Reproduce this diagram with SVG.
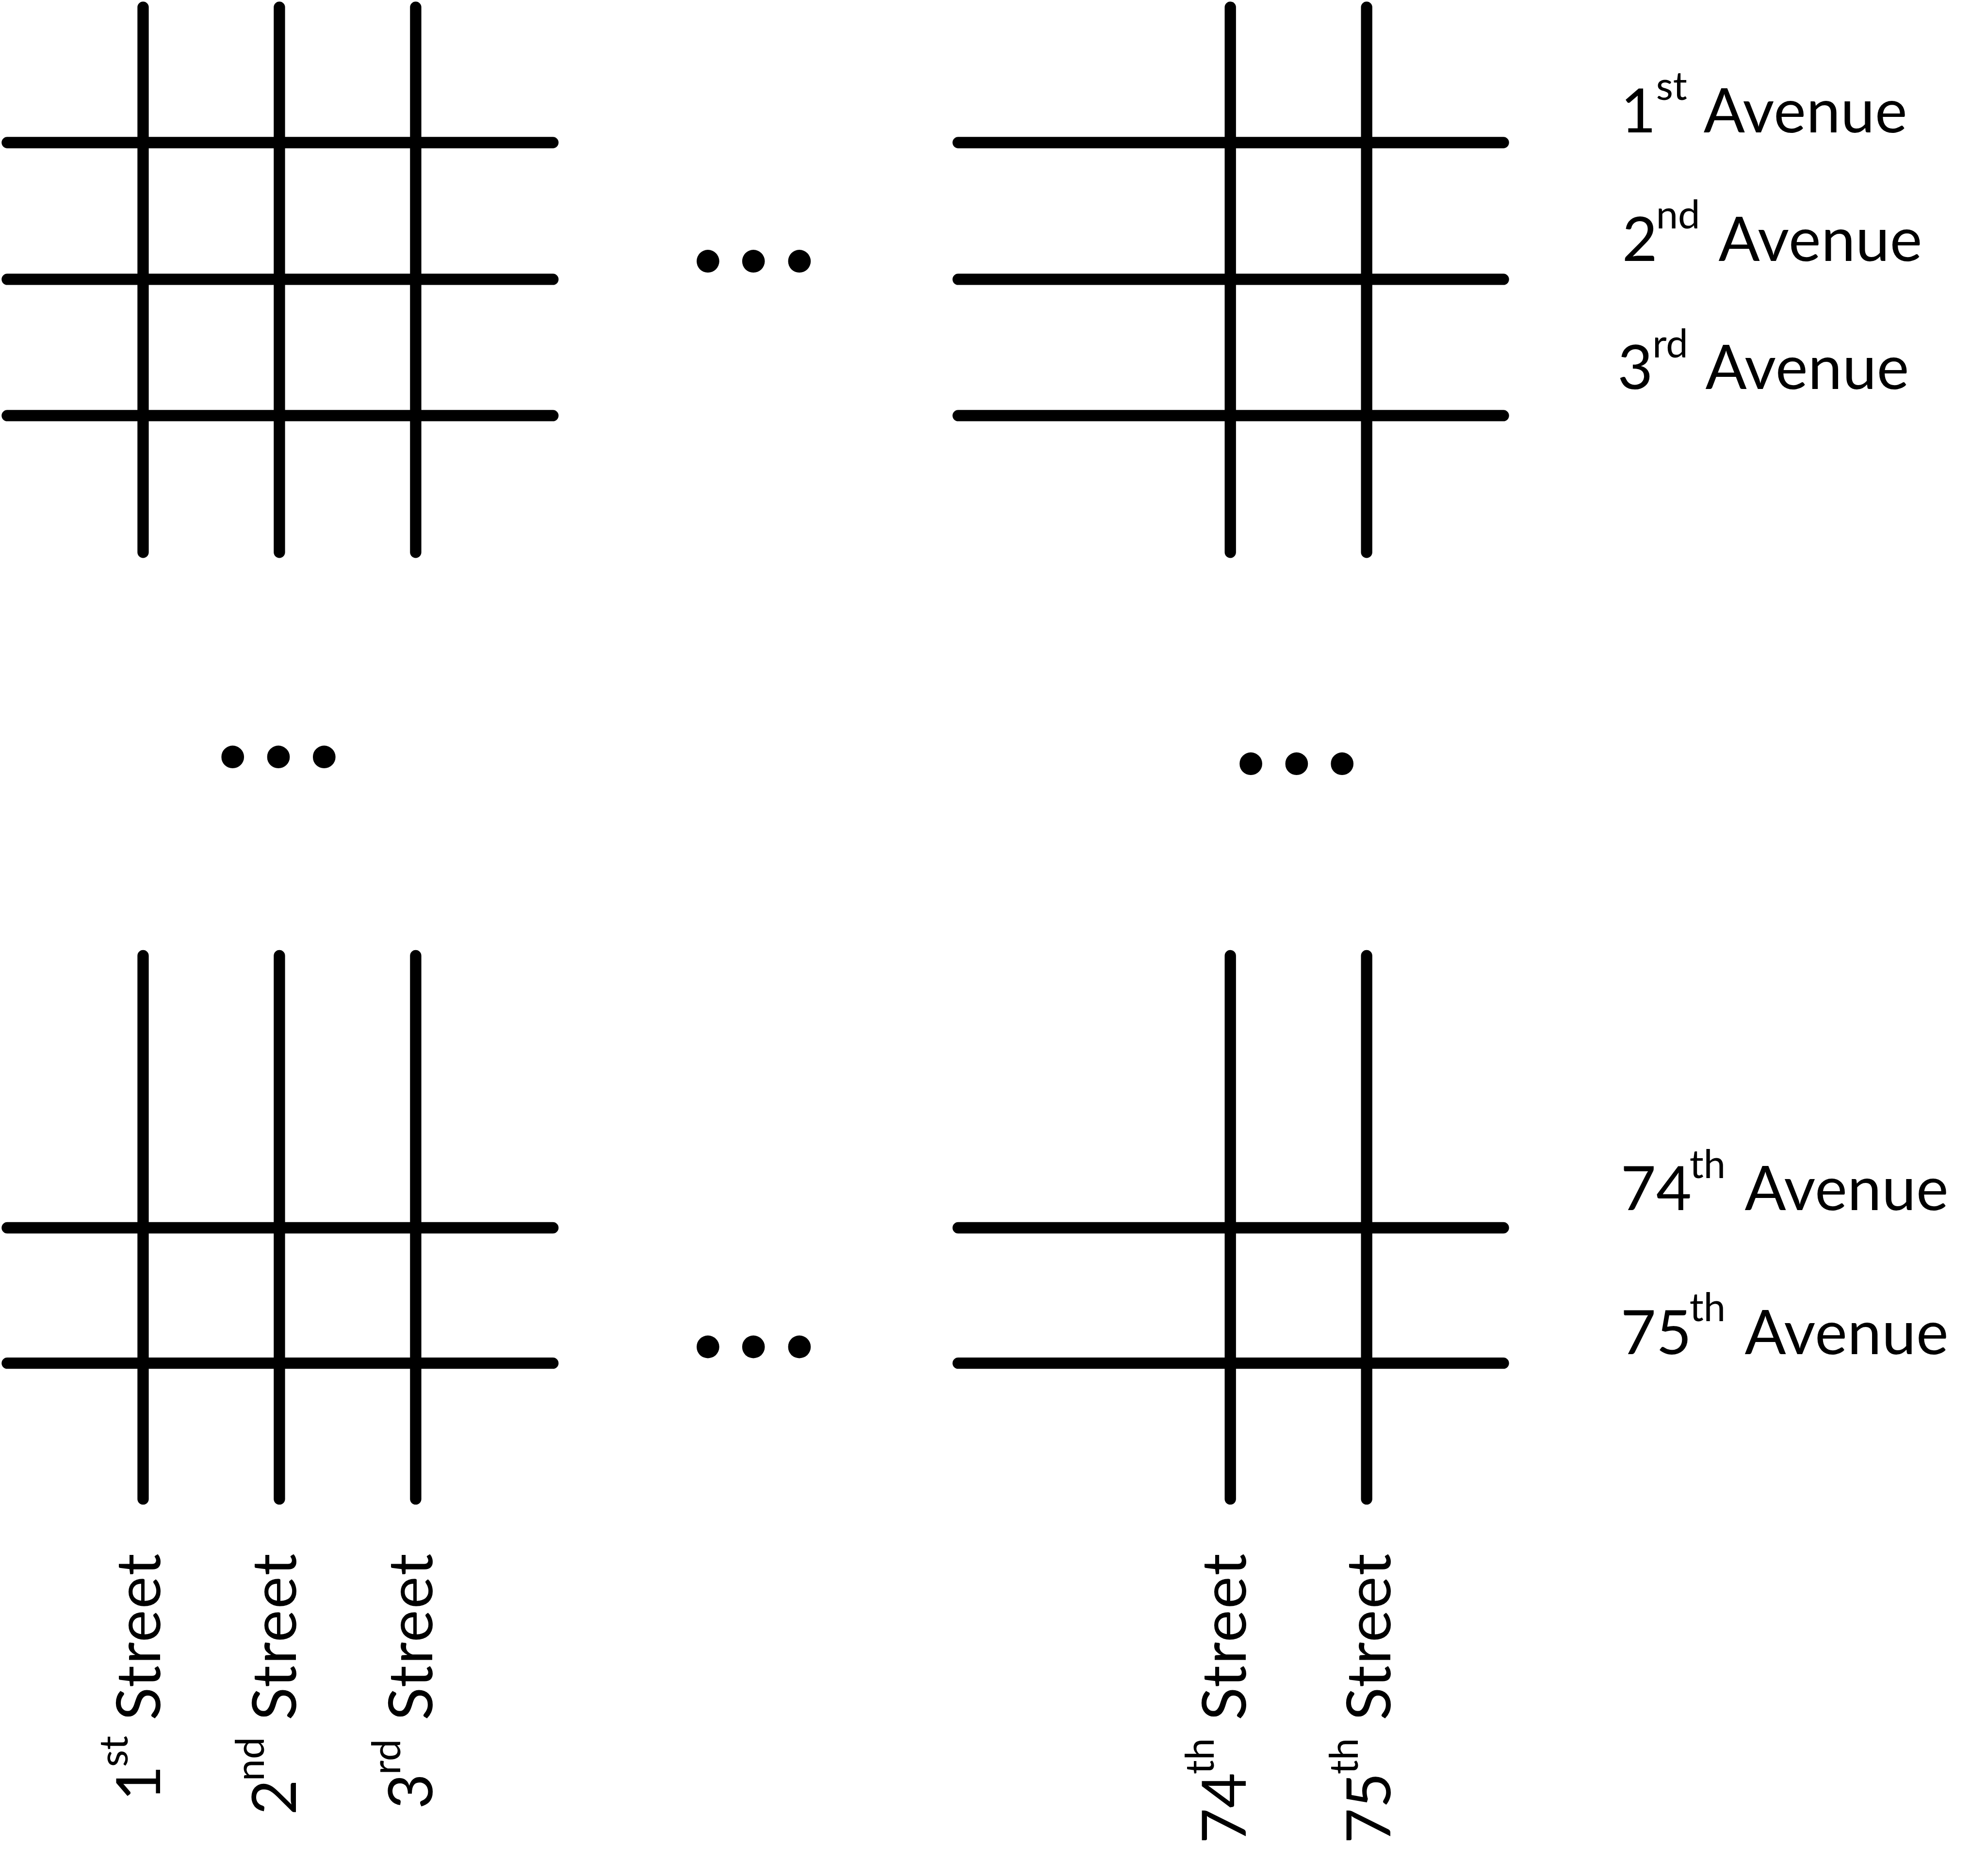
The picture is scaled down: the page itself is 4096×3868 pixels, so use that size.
<svg xmlns="http://www.w3.org/2000/svg" width="4096" height="3868" viewBox="0 0 4096 3868">
<style>
.road{stroke:#000;stroke-width:25;stroke-linecap:round;fill:none}
.lbl{font-family:Lato,"Liberation Sans",sans-serif;font-size:135px;fill:#000}
.sup{font-size:87px}
.word{letter-spacing:0.6px}
.sw{letter-spacing:2.6px}
.dots{font-family:Lato,"Liberation Sans",sans-serif;font-size:400px;fill:#000;text-anchor:middle}
</style>
<rect width="4096" height="3868" fill="#fff"/>
<g transform="scale(0.933455)">
  <g id="connectors">
    <g id="grid-top-left" class="road">
      <path d="M316 16V1220M617 16V1220M918 16V1220"/>
      <path d="M16 315H1221M16 617H1221M16 918H1221"/>
    </g>
    <g id="grid-top-right" class="road">
      <path d="M2717 16V1220M3018 16V1220"/>
      <path d="M2116 315H3320M2116 617H3320M2116 918H3320"/>
    </g>
    <g id="grid-bottom-left" class="road">
      <path d="M316 2111V3311M617 2111V3311M918 2111V3311"/>
      <path d="M16 2712H1221M16 3011H1221"/>
    </g>
    <g id="grid-bottom-right" class="road">
      <path d="M2717 2111V3311M3018 2111V3311"/>
      <path d="M2116 2712H3320M2116 3011H3320"/>
    </g>
  </g>
  <g id="ellipses">
    <text id="dots-top" class="dots" x="1563.5 1664 1765.5" y="599">...</text>
    <text id="dots-left" class="dots" x="514 615 716" y="1694">...</text>
    <text id="dots-right" class="dots" x="2762.5 2863.5 2964" y="1709">...</text>
    <text id="dots-bottom" class="dots" x="1563.5 1664 1765.5" y="2997">...</text>
  </g>
  <g id="avenue-labels">
    <text id="ave1" class="lbl" x="3579" y="292">1<tspan class="sup" x="3657" dy="-71">st </tspan><tspan class="word" x="3762" dy="71">Avenue</tspan></text>
    <text id="ave2" class="lbl" x="3582" y="576">2<tspan class="sup" x="3657" dy="-71">nd </tspan><tspan class="word" x="3795" dy="71">Avenue</tspan></text>
    <text id="ave3" class="lbl" x="3572" y="859">3<tspan class="sup" x="3649" dy="-69">rd </tspan><tspan class="word" x="3766" dy="69">Avenue</tspan></text>
    <text id="ave74" class="lbl" x="3579" y="2673">74<tspan class="sup" x="3731" dy="-71">th </tspan><tspan class="word" x="3853" dy="71">Avenue</tspan></text>
    <text id="ave75" class="lbl" x="3579" y="2991">75<tspan class="sup" x="3731" dy="-73">th </tspan><tspan class="word" x="3853" dy="73">Avenue</tspan></text>
  </g>
  <g id="street-labels">
    <text id="st1" class="lbl" transform="translate(353,4100) rotate(-90)" x="122" y="0">1<tspan class="sup" x="197" dy="-71">st </tspan><tspan class="sw" x="300" dy="71">Street</tspan></text>
    <text id="st2" class="lbl" transform="translate(654,4100) rotate(-90)" x="91" y="0">2<tspan class="sup" x="166" dy="-71">nd </tspan><tspan class="sw" x="300" dy="71">Street</tspan></text>
    <text id="st3" class="lbl" transform="translate(955,4100) rotate(-90)" x="104" y="0">3<tspan class="sup" x="180" dy="-71">rd </tspan><tspan class="sw" x="300" dy="71">Street</tspan></text>
    <text id="st74" class="lbl" transform="translate(2751,4100) rotate(-90)" x="28" y="0">74<tspan class="sup" x="181" dy="-71">th </tspan><tspan class="sw" x="300" dy="71">Street</tspan></text>
    <text id="st75" class="lbl" transform="translate(3070,4100) rotate(-90)" x="28" y="0">75<tspan class="sup" x="181" dy="-71">th </tspan><tspan class="sw" x="300" dy="71">Street</tspan></text>
  </g>
</g>
</svg>
